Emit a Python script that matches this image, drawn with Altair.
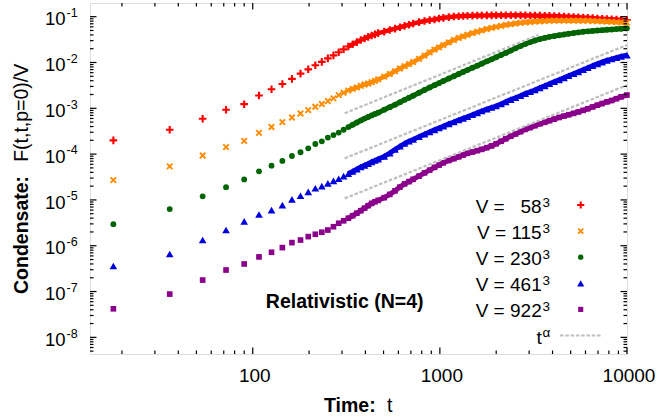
import altair as alt
import pandas as pd

FONT = "Liberation Sans"

# ---------------- data ----------------
t_early = [18, 36, 54, 72, 90, 108, 126, 144, 162, 180, 198, 216, 234, 252, 270, 288, 306]
t_late = [324, 342, 360, 378, 396, 414, 432, 450, 468,
          504, 540, 576, 612, 648, 684, 720,
          774, 828, 882, 936, 990,
          1044, 1116, 1188, 1260, 1332, 1404,
          1494, 1584, 1674, 1782, 1890, 1998,
          2124, 2250, 2394, 2538, 2700, 2862,
          3042, 3222, 3420, 3636, 3852,
          4086, 4338, 4608, 4878,
          5184, 5490, 5832, 6174,
          6552, 6948, 7362, 7812, 8280,
          8784, 9306, 9990]
times = t_early + t_late

v58 = [2.0e-4, 3.4e-4, 5.9e-4, 9.3e-4, 1.23e-3, 1.9e-3, 2.6e-3, 3.4e-3, 4.4e-3, 5.7e-3,
       7.1e-3, 8.7e-3, 1.03e-2, 1.23e-2, 1.43e-2, 1.67e-2, 1.94e-2,
       0.0224, 0.0251, 0.0279, 0.0309, 0.0335, 0.0363, 0.0389, 0.0412, 0.0437,
       0.0473, 0.0513, 0.0550, 0.0589, 0.0631, 0.0668, 0.0708,
       0.0759, 0.0804, 0.0841, 0.0871, 0.0912,
       0.0944, 0.0977, 0.1007, 0.1023, 0.1035, 0.1047,
       0.1054, 0.1059, 0.1064, 0.1067, 0.1069, 0.1072,
       0.1072, 0.1072, 0.1072, 0.1072, 0.1069, 0.1067,
       0.1064, 0.1059, 0.1054, 0.1047, 0.1040,
       0.1030, 0.1021, 0.1012, 0.1000,
       0.0986, 0.0973, 0.0959, 0.0946,
       0.0931, 0.0916, 0.0902, 0.0889, 0.0877,
       0.0867, 0.0857, 0.0847]

v115 = [2.7e-5, 5.4e-5, 9.3e-5, 1.42e-4, 1.95e-4, 2.9e-4, 3.9e-4, 5.0e-4, 6.3e-4, 7.7e-4,
        9.1e-4, 1.08e-3, 1.24e-3, 1.44e-3, 1.65e-3, 1.94e-3, 2.19e-3,
        2.43e-3, 2.66e-3, 2.85e-3, 3.09e-3, 3.31e-3, 3.47e-3, 3.72e-3, 3.98e-3, 4.27e-3,
        4.90e-3, 5.62e-3, 6.46e-3, 7.41e-3, 8.32e-3, 9.23e-3, 1.023e-2,
        1.20e-2, 1.41e-2, 1.66e-2, 1.91e-2, 2.14e-2,
        2.40e-2, 2.75e-2, 3.09e-2, 3.43e-2, 3.72e-2, 4.03e-2,
        4.37e-2, 4.68e-2, 5.01e-2, 5.37e-2, 5.69e-2, 6.00e-2,
        6.31e-2, 6.61e-2, 6.87e-2, 7.11e-2, 7.33e-2, 7.52e-2,
        7.67e-2, 7.82e-2, 7.94e-2, 8.05e-2, 8.15e-2,
        8.18e-2, 8.20e-2, 8.20e-2, 8.20e-2,
        8.18e-2, 8.17e-2, 8.15e-2, 8.11e-2,
        8.05e-2, 7.98e-2, 7.89e-2, 7.80e-2, 7.69e-2,
        7.59e-2, 7.50e-2, 7.41e-2]

v230 = [2.95e-6, 6.3e-6, 1.2e-5, 1.9e-5, 2.8e-5, 4.2e-5, 5.6e-5, 7.1e-5, 9.1e-5, 1.1e-4,
        1.34e-4, 1.66e-4, 1.9e-4, 2.3e-4, 2.6e-4, 2.95e-4, 3.4e-4,
        3.89e-4, 4.37e-4, 4.90e-4, 5.43e-4, 5.96e-4, 6.46e-4, 7.00e-4, 7.50e-4, 8.04e-4,
        9.33e-4, 1.06e-3, 1.20e-3, 1.36e-3, 1.53e-3, 1.70e-3, 1.88e-3,
        2.19e-3, 2.51e-3, 2.85e-3, 3.20e-3, 3.55e-3,
        3.94e-3, 4.47e-3, 5.01e-3, 5.62e-3, 6.24e-3, 6.84e-3,
        7.67e-3, 8.51e-3, 9.44e-3, 1.06e-2, 1.17e-2, 1.30e-2,
        1.46e-2, 1.62e-2, 1.82e-2, 2.04e-2, 2.29e-2, 2.54e-2,
        2.79e-2, 3.02e-2, 3.24e-2, 3.44e-2, 3.63e-2,
        3.78e-2, 3.94e-2, 4.09e-2, 4.24e-2,
        4.39e-2, 4.54e-2, 4.69e-2, 4.79e-2,
        4.89e-2, 4.99e-2, 5.08e-2, 5.18e-2, 5.26e-2,
        5.36e-2, 5.46e-2, 5.58e-2]

v461 = [3.6e-7, 6.6e-7, 1.33e-6, 2.2e-6, 3.4e-6, 4.8e-6, 6.0e-6, 7.7e-6, 1.03e-5, 1.23e-5,
        1.5e-5, 1.8e-5, 2.0e-5, 2.3e-5, 2.6e-5, 2.9e-5, 3.3e-5,
        3.72e-5, 4.17e-5, 4.68e-5, 5.25e-5, 5.69e-5, 6.17e-5, 6.76e-5, 7.24e-5, 7.76e-5,
        8.91e-5, 1.05e-4, 1.26e-4, 1.48e-4, 1.70e-4, 1.91e-4, 2.09e-4,
        2.40e-4, 2.72e-4, 3.05e-4, 3.39e-4, 3.72e-4,
        4.07e-4, 4.57e-4, 5.01e-4, 5.56e-4, 6.03e-4, 6.53e-4,
        7.24e-4, 7.94e-4, 8.71e-4, 9.55e-4, 1.04e-3, 1.12e-3,
        1.24e-3, 1.38e-3, 1.55e-3, 1.70e-3, 1.88e-3, 2.09e-3,
        2.29e-3, 2.51e-3, 2.79e-3, 3.09e-3, 3.43e-3,
        3.80e-3, 4.17e-3, 4.62e-3, 5.13e-3,
        5.69e-3, 6.24e-3, 6.92e-3, 7.67e-3,
        8.51e-3, 9.33e-3, 1.02e-2, 1.11e-2, 1.19e-2,
        1.27e-2, 1.36e-2, 1.45e-2]

v922 = [4.2e-8, 8.8e-8, 1.78e-7, 2.95e-7, 4.0e-7, 5.7e-7, 7.2e-7, 9.1e-7, 1.17e-6, 1.33e-6,
        1.58e-6, 1.78e-6, 1.97e-6, 2.2e-6, 2.6e-6, 3.1e-6, 3.5e-6,
        3.98e-6, 4.52e-6, 5.13e-6, 5.82e-6, 6.61e-6, 7.50e-6, 8.41e-6, 9.12e-6, 9.77e-6,
        1.12e-5, 1.32e-5, 1.58e-5, 1.91e-5, 2.24e-5, 2.51e-5, 2.82e-5,
        3.31e-5, 3.89e-5, 4.47e-5, 5.13e-5, 5.75e-5,
        6.46e-5, 7.24e-5, 7.94e-5, 8.71e-5, 9.55e-5, 1.04e-4,
        1.11e-4, 1.19e-4, 1.27e-4, 1.38e-4, 1.51e-4, 1.68e-4,
        1.91e-4, 2.16e-4, 2.46e-4, 2.75e-4, 3.09e-4, 3.47e-4,
        3.80e-4, 4.17e-4, 4.57e-4, 4.95e-4, 5.37e-4,
        5.82e-4, 6.31e-4, 6.76e-4, 7.24e-4,
        7.76e-4, 8.32e-4, 9.02e-4, 9.77e-4,
        1.07e-3, 1.17e-3, 1.27e-3, 1.38e-3, 1.48e-3,
        1.62e-3, 1.78e-3, 1.95e-3]

# t^alpha guide segments (start / end)
alpha_t0 = [310, 310, 310]
alpha_t1 = [3360, 10000, 10000]
alpha_v0 = [7.8e-4, 8.1e-5, 1.08e-5]
alpha_v1 = [4.0e-2, 2.41e-2, 3.2e-3]

series_names = ["58", "115", "230", "461", "922"]
series_values = [v58, v115, v230, v461, v922]

# axis ticks and labels
x_major = [100, 1000, 10000]
x_major_labels = ["100", "1000", "10000"]
x_minor = [20, 30, 40, 50, 60, 70, 80, 90,
           200, 300, 400, 500, 600, 700, 800, 900,
           2000, 3000, 4000, 5000, 6000, 7000, 8000, 9000]
y_major = [1e-1, 1e-2, 1e-3, 1e-4, 1e-5, 1e-6, 1e-7, 1e-8]
y_major_exp = ["-1", "-2", "-3", "-4", "-5", "-6", "-7", "-8"]
mult = [2, 3, 4, 5, 6, 7, 8, 9]
y_minor = [m * 10.0 ** e for e in range(-9, -1) for m in mult if 4.4e-9 < m * 10.0 ** e < 0.198]

# ---------------- styling ----------------
W, H = 537, 351
PLUS = "M-1,-0.28H-0.28V-1H0.28V-0.28H1V0.28H0.28V1H-0.28V0.28H-1Z"
XMARK = ("M-0.64,-1.06L1.06,0.64L0.64,1.06L-1.06,-0.64Z"
         "M-0.64,1.06L-1.06,0.64L0.64,-1.06L1.06,-0.64Z")
colors = ["#FF0000", "#FF8C00", "#006400", "#0000DD", "#8B008B"]
shapes = [PLUS, XMARK, "circle", "triangle-up", "square"]
sizes = [58, 42, 34, 58, 32]
band_widths = [4.5, 4.5, 5.0, 5.0, 5.0]
GRAY = "#BEBEBE"
DENSE_FROM = 320  # where successive markers merge into a continuous band

xscale = alt.Scale(type="log", domain=[13.5, 10000], nice=False)
yscale = alt.Scale(type="log", domain=[4.33e-9, 0.199], nice=False)


def xenc():
    return alt.X("t:Q", scale=xscale, axis=None)


def yenc():
    return alt.Y("v:Q", scale=yscale, axis=None)


one = pd.DataFrame({"k": [0]})
layers = []

# data series: markers, with the overlapping (dense) stretch filled as a band
for vals, color, shape, size, bw in zip(series_values, colors, shapes, sizes, band_widths):
    df = pd.DataFrame({"t": times, "v": vals})
    layers.append(
        alt.Chart(df).transform_filter(alt.datum.t >= DENSE_FROM)
        .mark_line(color=color, strokeWidth=bw, strokeCap="butt", strokeJoin="round")
        .encode(x=xenc(), y=yenc(), order="t:Q")
    )
    layers.append(
        alt.Chart(df).mark_point(shape=shape, filled=True, size=size, color=color,
                                 opacity=1, strokeWidth=0)
        .encode(x=xenc(), y=yenc())
    )

# t^alpha guides
df_alpha = pd.DataFrame({"t": alpha_t0, "t2": alpha_t1, "v": alpha_v0, "v2": alpha_v1})
layers.append(
    alt.Chart(df_alpha).mark_rule(color=GRAY, strokeWidth=2.2, strokeDash=[3.5, 1.8])
    .encode(x=xenc(), x2="t2:Q", y=yenc(), y2="v2:Q")
)

# inward ticks on all four sides
TW = 1.2
for vals, ln in [(x_major, 6.5), (x_minor, 3.5)]:
    df = pd.DataFrame({"t": vals})
    layers.append(alt.Chart(df).mark_rule(color="black", strokeWidth=TW)
                  .encode(x=xenc(), y=alt.value(H), y2=alt.value(H - ln)))
    layers.append(alt.Chart(df).mark_rule(color="black", strokeWidth=TW)
                  .encode(x=xenc(), y=alt.value(0), y2=alt.value(ln)))
for vals, ln in [(y_major, 6.5), (y_minor, 3.5)]:
    df = pd.DataFrame({"v": vals})
    layers.append(alt.Chart(df).mark_rule(color="black", strokeWidth=TW)
                  .encode(y=yenc(), x=alt.value(0), x2=alt.value(ln)))
    layers.append(alt.Chart(df).mark_rule(color="black", strokeWidth=TW)
                  .encode(y=yenc(), x=alt.value(W), x2=alt.value(W - ln)))

# x tick labels
df_xlab = pd.DataFrame({"t": x_major, "lab": x_major_labels})
layers.append(alt.Chart(df_xlab).mark_text(font=FONT, fontSize=19, align="center",
                                           baseline="alphabetic", dx=2, color="black")
              .encode(x=xenc(), y=alt.value(H + 27.7), text="lab:N"))

# y tick labels 10^n
df_ylab = pd.DataFrame({"v": y_major, "e": y_major_exp})
layers.append(alt.Chart(df_ylab).mark_text(font=FONT, fontSize=18.5, align="right",
                                           baseline="alphabetic", dy=8.6, color="black")
              .encode(x=alt.value(-24.5), y=yenc(), text=alt.value("10")))
layers.append(alt.Chart(df_ylab).mark_text(font=FONT, fontSize=12.5, align="left",
                                           baseline="alphabetic", dy=0.3, color="black")
              .encode(x=alt.value(-23.5), y=yenc(), text="e:N"))


def label(text, x, y, size, weight="normal", align="left", angle=None):
    kw = dict(font=FONT, fontSize=size, fontWeight=weight, align=align,
              baseline="alphabetic", color="black")
    if angle is not None:
        kw["angle"] = angle
    return alt.Chart(one).mark_text(**kw).encode(
        x=alt.value(x), y=alt.value(y), text=alt.value(text))


# axis titles
layers.append(label("Time:", 234, 408.7, 19.5, "bold"))
layers.append(label("t", 297, 408.7, 19.5))
layers.append(label("Condensate:", -61.7, 291, 19.5, "bold", angle=270))
layers.append(label("F(t,t,p=0)/V", -61.7, 158.8, 19.5, angle=270))

# annotation
layers.append(label("Relativistic (N=4)", 175.8, 305.3, 19.5, "bold"))

# legend
legend_labels = ["V =\u00a0\u00a0\u00a058", "V = 115", "V = 230", "V = 461", "V = 922"]
row0, drow = 202, 26.1
for i, lab in enumerate(legend_labels):
    ry = row0 + i * drow
    layers.append(label(lab, 451.7, ry + 8, 19, align="right"))
    layers.append(label("3", 452.5, ry + 1.5, 13.5))
    layers.append(alt.Chart(one).mark_point(shape=shapes[i], filled=True, size=sizes[i] - 6,
                                            color=colors[i], opacity=1, strokeWidth=0)
                  .encode(x=alt.value(490.7), y=alt.value(ry)))
ry = row0 + 5 * drow
layers.append(label("t", 451.7, ry + 8, 19, align="right"))
layers.append(label("\u03b1", 452.5, ry + 1.5, 13.5))
layers.append(alt.Chart(one).mark_rule(color=GRAY, strokeWidth=2.2, strokeDash=[3.5, 1.8])
              .encode(x=alt.value(470), x2=alt.value(512), y=alt.value(ry)))

chart = (
    alt.layer(*layers)
    .properties(width=W, height=H, autosize="none",
                padding={"left": 90, "top": 3, "right": 30, "bottom": 65})
    .configure_view(stroke="black", strokeWidth=2.4)
    .configure(background="white")
)

chart.save("out.html", embed_options={"renderer": "svg", "actions": False})
